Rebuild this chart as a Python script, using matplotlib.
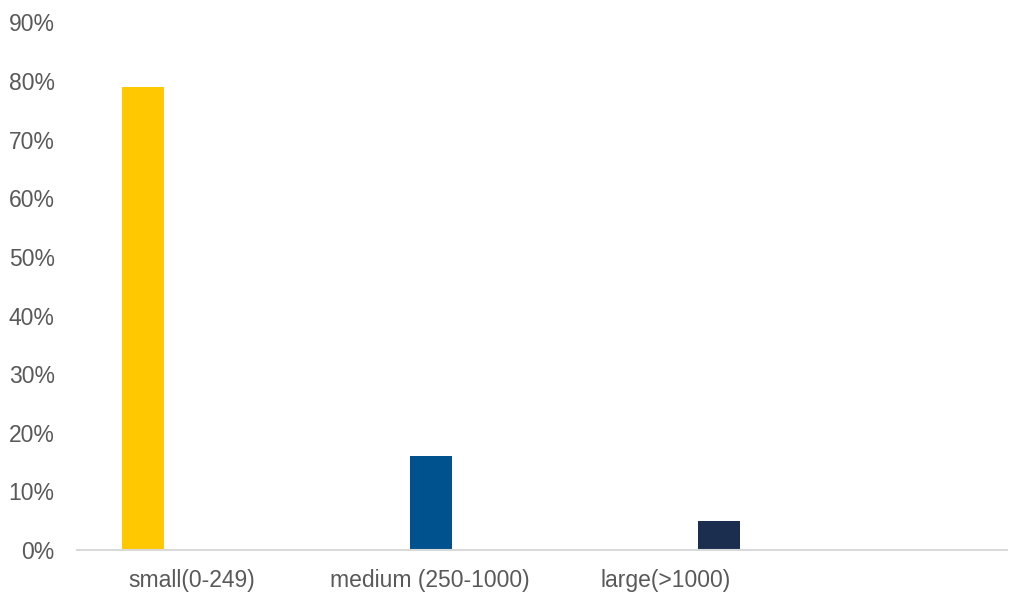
import matplotlib
matplotlib.use("Agg")
import matplotlib.pyplot as plt
import matplotlib.ticker as ticker

# company size groups and their share of the total
categories = ["small(0-249)", "medium (250-1000)", "large(>1000)"]
shares = [0.79, 0.16, 0.05]
colors = ["#FFC800", "#00528F", "#1B2E4F"]

bar_pos = [0.284, 1.523, 2.761]
label_pos = [0.495, 1.518, 2.533]

plt.rcParams['font.family'] = ['Liberation Sans', 'DejaVu Sans']

fig = plt.figure(figsize=(10.1, 5.92), dpi=100)
ax = fig.add_axes([0.0762, 0.0709, 0.9208, 0.8911])

ax.bar(bar_pos, shares, width=0.18, color=colors, zorder=2)

ax.set_xlim(0, 4)
ax.set_ylim(0, 0.9)
ax.yaxis.set_major_locator(ticker.MultipleLocator(0.1))
ax.yaxis.set_major_formatter(ticker.FuncFormatter(lambda v, p: "{:.0f}%".format(v * 100)))
ax.set_xticks(label_pos)
ax.set_xticklabels(categories)

ax.tick_params(axis='y', length=0, pad=16, labelsize=16.5, labelcolor="#595959")
ax.tick_params(axis='x', length=0, pad=13.5, labelsize=16.5, labelcolor="#595959")

for side in ["top", "right", "left"]:
	ax.spines[side].set_visible(False)
ax.spines["bottom"].set_color("#D9D9D9")
ax.spines["bottom"].set_linewidth(1.5)

fig.savefig("out.png", dpi=100)
